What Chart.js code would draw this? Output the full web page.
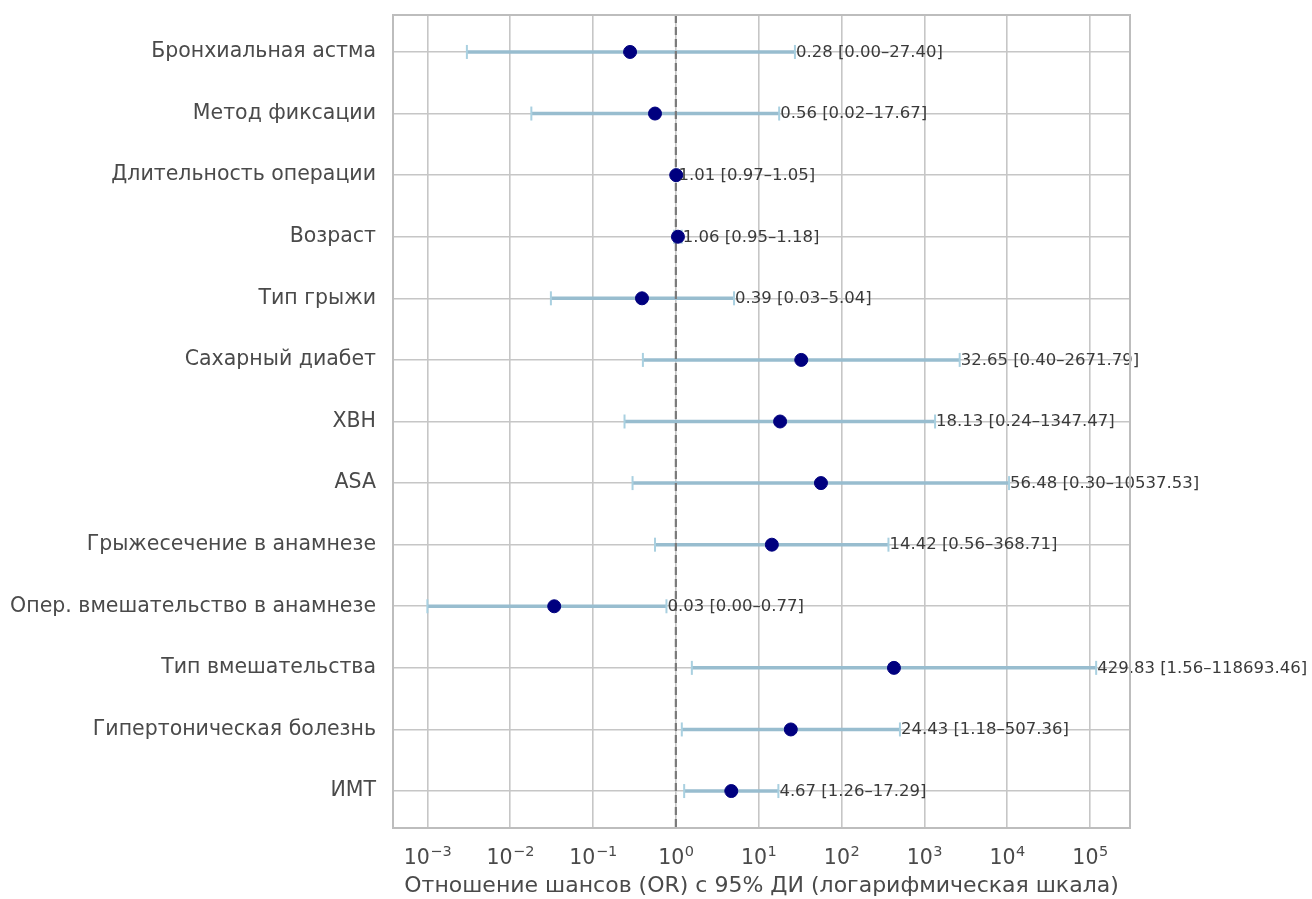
<!DOCTYPE html>
<html>
<head>
<meta charset="utf-8">
<script src="https://cdn.jsdelivr.net/npm/chart.js@4.4.0/dist/chart.umd.min.js"></script>
<style>
  html, body { margin: 0; padding: 0; background: #ffffff; }
  #wrap { width: 1312px; height: 899px; }
</style>
</head>
<body>
<div id="wrap"><canvas id="forest" width="1312" height="899"></canvas></div>
<script>
// Factors, top to bottom
const factors = [
  'Бронхиальная астма',
  'Метод фиксации',
  'Длительность операции',
  'Возраст',
  'Тип грыжи',
  'Сахарный диабет',
  'ХВН',
  'ASA',
  'Грыжесечение в анамнезе',
  'Опер. вмешательство в анамнезе',
  'Тип вмешательства',
  'Гипертоническая болезнь',
  'ИМТ'
];
// Odds ratios and 95% CI bounds
const oddsRatio = [0.28, 0.56, 1.01, 1.06, 0.39, 32.65, 18.13, 56.48, 14.42, 0.034, 429.83, 24.43, 4.67];
const ciLower   = [0.003, 0.018, 0.97, 0.95, 0.031, 0.40, 0.24, 0.30, 0.56, 0.001, 1.56, 1.18, 1.26];
const ciUpper   = [27.40, 17.67, 1.05, 1.18, 5.04, 2671.79, 1347.47, 10537.53, 368.71, 0.77, 118693.46, 507.36, 17.29];
// Decade ticks on the log axis (exponents)
const decadeExponents = [-3, -2, -1, 0, 1, 2, 3, 4, 5];

const FONT = "'DejaVu Sans', sans-serif";
const TEXT = '#4a4a4a';
const fmt = v => v.toFixed(2);

const ciDatasets = factors.map((f, i) => ({
  type: 'line',
  label: f,
  data: [{ x: ciLower[i], y: i }, { x: ciUpper[i], y: i }],
  borderColor: '#98bdcf',
  borderWidth: 3.5,
  pointStyle: 'line',
  pointRotation: 90,
  pointRadius: 7,
  pointBorderWidth: 2,
  pointBorderColor: '#a9d0e0',
  pointBackgroundColor: '#a9d0e0',
  pointHoverRadius: 7,
  order: 3
}));

const refLine = {
  type: 'line',
  label: 'OR = 1',
  data: [{ x: 1, y: -0.6 }, { x: 1, y: 12.6 }],
  borderColor: '#7a7a7a',
  borderWidth: 2.2,
  borderDash: [8, 4],
  pointRadius: 0,
  order: 2
};

const pointSet = {
  type: 'scatter',
  label: 'OR',
  data: factors.map((f, i) => ({ x: oddsRatio[i], y: i })),
  backgroundColor: '#00007f',
  borderColor: '#00007f',
  pointRadius: 6.5,
  pointHoverRadius: 6.5,
  order: 1
};

// Frame around the plotting area
const framePlugin = {
  id: 'frame',
  afterDraw(chart) {
    const { ctx, chartArea: a } = chart;
    ctx.save();
    ctx.strokeStyle = '#bdbdbd';
    ctx.lineWidth = 2;
    ctx.strokeRect(a.left, a.top, a.right - a.left, a.bottom - a.top);
    ctx.restore();
  }
};

// Power-of-ten tick labels with a raised exponent
const decadeLabels = {
  id: 'decadeLabels',
  afterDraw(chart) {
    const { ctx, scales: { x } } = chart;
    const base = '20.5px ' + FONT;
    const exp = '14.5px ' + FONT;
    const baseline = x.top + 36;
    ctx.save();
    ctx.fillStyle = TEXT;
    ctx.textBaseline = 'alphabetic';
    ctx.textAlign = 'left';
    decadeExponents.forEach(e => {
      const px = x.getPixelForValue(Math.pow(10, e));
      const supTxt = (e < 0 ? '−' : '') + Math.abs(e);
      ctx.font = base;
      const w1 = ctx.measureText('10').width;
      ctx.font = exp;
      const w2 = ctx.measureText(supTxt).width;
      const left = px - (w1 + w2) / 2;
      ctx.font = base;
      ctx.fillText('10', left, baseline);
      ctx.font = exp;
      ctx.fillText(supTxt, left + w1 + 0.5, baseline - 8);
    });
    ctx.restore();
  }
};

// "OR [lo–hi]" text right after each upper CI bound
const valueLabels = {
  id: 'valueLabels',
  afterDatasetsDraw(chart) {
    const { ctx, scales: { x, y } } = chart;
    ctx.save();
    ctx.font = '16.5px ' + FONT;
    ctx.fillStyle = '#3a3a3a';
    ctx.textAlign = 'left';
    ctx.textBaseline = 'middle';
    factors.forEach((f, i) => {
      const txt = fmt(oddsRatio[i]) + ' [' + fmt(ciLower[i]) + '–' + fmt(ciUpper[i]) + ']';
      ctx.fillText(txt, x.getPixelForValue(ciUpper[i]) + 1, y.getPixelForValue(i) + 0.5);
    });
    ctx.restore();
  }
};

new Chart(document.getElementById('forest'), {
  data: { datasets: [pointSet, refLine, ...ciDatasets] },
  options: {
    responsive: false,
    animation: false,
    layout: { padding: { left: 0, right: 182, top: 15, bottom: 0 } },
    plugins: { legend: { display: false }, tooltip: { enabled: false } },
    scales: {
      x: {
        type: 'logarithmic',
        position: 'bottom',
        min: Math.pow(10, -3.415),
        max: Math.pow(10, 5.483),
        afterBuildTicks(scale) {
          scale.ticks = decadeExponents.map(e => ({ value: Math.pow(10, e) }));
        },
        afterFit(scale) {
          scale.height = 71;
          scale.paddingLeft = 0;
          scale.paddingRight = 0;
        },
        grid: { color: '#c6c6c6', lineWidth: 1.6, drawTicks: false },
        border: { display: false },
        ticks: { display: false, autoSkip: false },
        title: {
          display: true,
          text: 'Отношение шансов (OR) с 95% ДИ (логарифмическая шкала)',
          color: TEXT,
          font: { family: FONT, size: 22 },
          padding: { top: 0, bottom: 0 }
        }
      },
      y: {
        type: 'linear',
        reverse: true,
        min: -0.6,
        max: 12.6,
        afterBuildTicks(scale) {
          scale.ticks = factors.map((f, i) => ({ value: i }));
        },
        afterFit(scale) {
          scale.width = 393;
          scale.paddingTop = 0;
          scale.paddingBottom = 0;
        },
        grid: { color: '#c6c6c6', lineWidth: 1.6, drawTicks: false },
        border: { display: false },
        ticks: {
          padding: 17,
          autoSkip: false,
          color: TEXT,
          font: { family: FONT, size: 20.5 },
          callback(v) { return factors[v]; }
        }
      }
    }
  },
  plugins: [framePlugin, decadeLabels, valueLabels]
});
</script>
</body>
</html>
